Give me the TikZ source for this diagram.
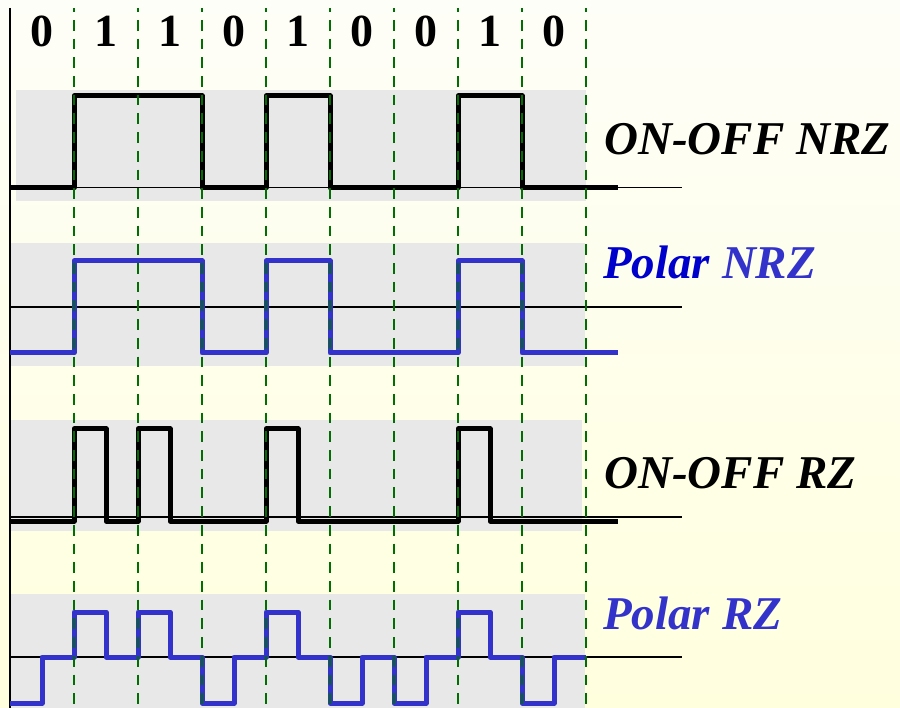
\documentclass[tikz,border=0pt]{standalone}
\usepackage{fontspec}
\setmainfont{Liberation Serif}
\definecolor{bandgray}{RGB}{232,232,232}
\definecolor{gridgreen}{RGB}{0,110,0}
\definecolor{sigblue}{RGB}{51,51,204}
\definecolor{darkblue}{RGB}{0,0,204}
\definecolor{bgtop}{RGB}{254,254,248}
\definecolor{bgbot}{RGB}{255,255,222}
\begin{document}
\begin{tikzpicture}[x=1pt,y=-1pt,
  band/.style={fill=bandgray,draw=none},
  sig/.style={line width=5pt,line join=round},
  axisline/.style={black,line width=1.8pt},
  gridline/.style={gridgreen,line width=2.5pt,dash pattern=on 10.7pt off 8pt,dash phase=6.7pt},
  bitlabel/.style={font=\fontsize{46}{50}\selectfont\bfseries,anchor=base,inner sep=0pt},
  siglabel/.style={font=\fontsize{47}{50}\selectfont\bfseries\itshape,anchor=base west,inner sep=0pt}]
\useasboundingbox (0,0) rectangle (900,708);
\shade[top color=bgtop,bottom color=bgbot] (0,0) rectangle (900,708);
% bands
\fill[band] (16,90) rectangle (586,201);
\fill[band] (11,243) rectangle (585,366);
\fill[band] (11,420) rectangle (582,531);
\fill[band] (11,594) rectangle (585,708);
% vertical axis
\draw[black,line width=2pt] (10,8) -- (10,708);
% horizontal axes
\coordinate (a1l) at (10,187.5); \coordinate (a1r) at (682,187.5);
\coordinate (a2l) at (10,307); \coordinate (a2r) at (682,307);
\coordinate (a3l) at (10,517); \coordinate (a3r) at (682,517);
\coordinate (a4l) at (10,657); \coordinate (a4r) at (682,657);
\draw[axisline] (a1l) -- (a1r);
\draw[axisline] (a2l) -- (a2r);
\draw[axisline] (a3l) -- (a3r);
\draw[axisline] (a4l) -- (a4r);
% ON-OFF NRZ
\draw[sig,black] (10,188) -- (74,188) -- (74,96) -- (202,96) -- (202,188) -- (266,188) -- (266,96) -- (330,96) -- (330,188) -- (458,188) -- (458,96) -- (522,96) -- (522,188) -- (618,188);
% Polar NRZ
\draw[sig,sigblue] (10,353) -- (74,353) -- (74,261) -- (202,261) -- (202,353) -- (266,353) -- (266,261) -- (330,261) -- (330,353) -- (458,353) -- (458,261) -- (522,261) -- (522,353) -- (618,353);
% ON-OFF RZ
\draw[sig,black] (10,521) -- (74,521) -- (74,429) -- (106,429) -- (106,521) -- (138,521) -- (138,429) -- (170,429) -- (170,521) -- (266,521) -- (266,429) -- (298,429) -- (298,521) -- (458,521) -- (458,429) -- (490,429) -- (490,521) -- (618,521);
% Polar RZ
\draw[sig,sigblue] (10,703) -- (42,703) -- (42,657) -- (74,657) -- (74,612) -- (106,612) -- (106,657) -- (138,657) -- (138,612) -- (170,612) -- (170,657) -- (202,657) -- (202,703) -- (234,703) -- (234,657) -- (266,657) -- (266,612) -- (298,612) -- (298,657) -- (330,657) -- (330,703) -- (362,703) -- (362,657) -- (394,657) -- (394,703) -- (426,703) -- (426,657) -- (458,657) -- (458,612) -- (490,612) -- (490,657) -- (522,657) -- (522,703) -- (554,703) -- (554,657) -- (586,657);
% grid lines
\foreach \k in {0,...,8} {
  \draw[gridline] (74+64*\k,8) -- (74+64*\k,708);
}
% bit labels
\node[bitlabel] (b0) at (42,47) {0};
\node[bitlabel] (b1) at (106,47) {1};
\node[bitlabel] (b2) at (170,47) {1};
\node[bitlabel] (b3) at (234,47) {0};
\node[bitlabel] (b4) at (298,47) {1};
\node[bitlabel] (b5) at (362,47) {0};
\node[bitlabel] (b6) at (426,47) {0};
\node[bitlabel] (b7) at (490,47) {1};
\node[bitlabel] (b8) at (554,47) {0};
% signal labels
\node[siglabel,black] (l1) at (604,155) {ON-OFF NRZ};
\node[siglabel] (l2) at (603,279) {\textcolor{darkblue}{Polar} \textcolor{sigblue}{NRZ}};
\node[siglabel,black] (l3) at (604,489) {ON-OFF RZ};
\node[siglabel,sigblue] (l4) at (603,629) {Polar RZ};
\end{tikzpicture}
\end{document}
